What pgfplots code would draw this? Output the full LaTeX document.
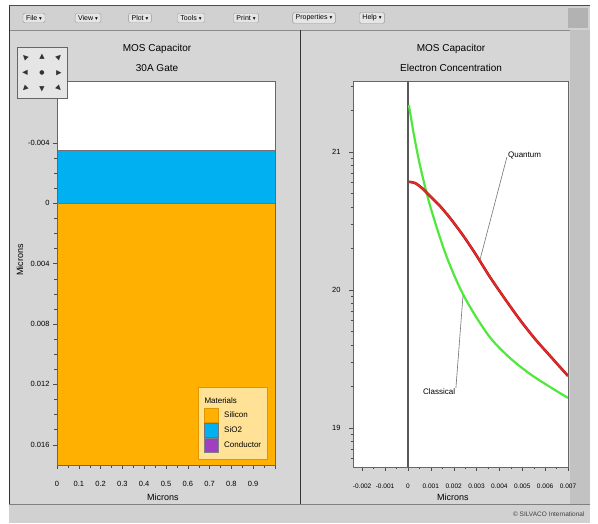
\documentclass[border=0pt]{standalone}
\usepackage{fontspec}
\setmainfont{Liberation Sans}
\newfontfamily\dejavu{DejaVu Sans}
\usepackage{pgfplots}
\pgfplotsset{compat=1.18}
\definecolor{silicon}{RGB}{255,176,0}
\definecolor{oxide}{RGB}{0,176,240}
\definecolor{conductor}{RGB}{160,64,192}
\definecolor{legfill}{RGB}{255,226,150}
\definecolor{legdraw}{RGB}{225,150,0}
\definecolor{winbg}{RGB}{214,214,214}
\definecolor{qred}{RGB}{235,40,40}
\definecolor{qdark}{RGB}{170,20,20}
\definecolor{cgreen}{RGB}{80,232,60}
\pgfplotsset{swatch/.style={legend image code/.code={\draw[##1] (0pt,-7pt) rectangle (14pt,7pt);}}}
\begin{document}
\begin{tikzpicture}
\path[use as bounding box] (0pt,0pt) rectangle (598pt,523pt);
\fill[white] (0pt,0pt) rectangle (598pt,523pt);
\fill[winbg] (9pt,0pt) rectangle (590pt,517pt);
% menu bar
\fill[black!18] (9pt,493pt) rectangle (590pt,517pt);
\draw[black!70] (9pt,517.5pt)--(590pt,517.5pt);
\draw[black!45] (9pt,493pt)--(590pt,493pt);
\fill[black!30] (568pt,495pt) rectangle (588pt,515pt);
\foreach \cx/\t in {34/File,88/View,140/Plot,191/Tools,246/Print,314/Properties,372/Help}{
  \node[draw=black!40, fill=black!10, rounded corners=1.5pt, inner xsep=3pt, inner ysep=2.2pt, font=\fontsize{7}{8}\selectfont] at (\cx pt,505pt) {\t\ {\dejavu\fontsize{5.5}{6}\selectfont ▾}};
}
% panels
\fill[black!24] (570pt,19pt) rectangle (590pt,493pt);
\draw[black!80, line width=1.4pt] (9.7pt,0pt)--(9.7pt,517pt);
\draw[black!80, line width=1.2pt] (300.5pt,19pt)--(300.5pt,493pt);
\fill[black!18] (9pt,0pt) rectangle (590pt,19pt);
\draw[black!50] (9pt,19pt)--(590pt,19pt);
\node[anchor=east, font=\fontsize{6.5}{7}\selectfont, text=black!75] at (588pt,9pt) {© SILVACO International};

% ---------- left axis: structure ----------
\begin{axis}[
  at={(57pt,58pt)}, anchor=south west, scale only axis,
  width=218pt, height=384pt,
  xmin=0, xmax=1, ymin=-0.0081, ymax=0.01735, y dir=reverse,
  axis background/.style={fill=white},
  axis line style={black!60}, tick style={black!70},
  tick align=outside, xtick pos=bottom, ytick pos=left,
  major tick length=4pt, minor tick length=2.5pt,
  xtick={0,0.1,0.2,0.3,0.4,0.5,0.6,0.7,0.8,0.9,1},
  xticklabels={0,0.1,0.2,0.3,0.4,0.5,0.6,0.7,0.8,0.9,},
  minor x tick num=1,
  ytick={-0.004,0,0.004,0.008,0.012,0.016}, minor y tick num=3,
  scaled ticks=false,
  yticklabel style={/pgf/number format/fixed, /pgf/number format/precision=3},
  /pgf/number format/assume math mode=true,
  ticklabel style={font=\fontsize{7.5}{8}\selectfont},
  xticklabel style={yshift=-9pt},
  title={MOS Capacitor\\30A Gate},
  title style={at={(axis description cs:0.459,1)}, anchor=south, yshift=0pt, align=center, font=\fontsize{10}{20}\selectfont},
  xlabel={Microns},
  xlabel style={at={(axis description cs:0.486,0)}, anchor=center, yshift=-32pt, font=\fontsize{9}{10}\selectfont},
  ylabel={Microns},
  ylabel style={at={(axis description cs:-0.17,0.534)}, anchor=center, font=\fontsize{9}{10}\selectfont},
  legend style={at={(axis description cs:0.968,0.013)}, anchor=south east,
    fill=legfill, draw=legdraw, line width=0.8pt, inner xsep=6pt, inner ysep=7pt,
    font=\fontsize{8}{9}\selectfont, row sep=0pt, column sep=5pt,
    nodes={inner sep=0.5pt, line width=0.4pt}},
  legend cell align=left,
  axis on top,
]
\addlegendimage{legend image code/.code={\path[draw=none,fill=none] (0pt,-7pt) rectangle (14pt,7pt); \node[overlay, anchor=west, inner sep=0pt, draw=none, fill=none, text=black, font=\fontsize{8}{9}\selectfont] at (0pt,0pt) {Materials};}}
\addlegendentry{\mbox{}}
\addplot[fill=silicon, draw=legdraw, swatch] coordinates {(0,0) (1,0) (1,0.01735) (0,0.01735)} -- cycle;
\addlegendentry{Silicon}
\addplot[fill=oxide, draw=black!55, swatch] coordinates {(0,-0.0035) (1,-0.0035) (1,0) (0,0)} -- cycle;
\addlegendentry{SiO2}
\addlegendimage{fill=conductor, draw=black!50, swatch}
\addlegendentry{Conductor}
\end{axis}

% ---------- right axis: electron concentration ----------
\begin{axis}[
  at={(353pt,56pt)}, anchor=south west, scale only axis,
  width=215pt, height=386pt,
  xmin=-0.0024, xmax=0.007,
  ymode=log, log basis y=10, ymin=5.21e18, ymax=3.27e21,
  axis background/.style={fill=white},
  axis line style={black!60}, tick style={black!70},
  tick align=outside, xtick pos=bottom, ytick pos=left,
  major tick length=4pt, minor tick length=2.5pt,
  xtick={-0.002,-0.001,0,0.001,0.002,0.003,0.004,0.005,0.006,0.007},
  minor x tick num=1,
  ytick={1e19,1e20,1e21},
  minor ytick={6e18,7e18,8e18,9e18,2e19,3e19,4e19,5e19,6e19,7e19,8e19,9e19,2e20,3e20,4e20,5e20,6e20,7e20,8e20,9e20,2e21,3e21},
  yticklabel={\pgfmathprintnumber{\tick}},
  scaled ticks=false,
  xticklabel style={/pgf/number format/fixed, /pgf/number format/precision=3, yshift=-9pt, font=\fontsize{6.5}{7}\selectfont},
  yticklabel style={xshift=-5pt, font=\fontsize{7.5}{8}\selectfont},
  /pgf/number format/assume math mode=true,
  title={MOS Capacitor\\Electron Concentration},
  title style={at={(axis description cs:0.456,1)}, anchor=south, yshift=0pt, align=center, font=\fontsize{10}{20}\selectfont},
  xlabel={Microns},
  xlabel style={at={(axis description cs:0.465,0)}, anchor=center, yshift=-30pt, font=\fontsize{9}{10}\selectfont},
  clip=true,
]
% oxide / silicon interface
\addplot[black!65, line width=2pt] coordinates {(0,5.21e18) (0,3.27e21)};
% Classical
\addplot[cgreen, line width=2.2pt, smooth] coordinates {
 (0.000044,2.19e21) (0.000263,1.33e21) (0.000525,8.05e20) (0.000875,4.64e20)
 (0.001225,2.96e20) (0.001619,1.88e20) (0.002056,1.24e20) (0.002494,8.75e19)
 (0.003063,6.07e19) (0.003675,4.35e19) (0.004463,3.21e19) (0.005338,2.46e19)
 (0.006213,1.98e19) (0.007000,1.65e19)};
% Quantum
\addplot[qdark, line width=2.6pt, smooth] coordinates {
 (0.000044,6.07e20) (0.000306,5.96e20) (0.000613,5.48e20) (0.000963,4.80e20)
 (0.001400,4.06e20) (0.001838,3.33e20) (0.002363,2.55e20) (0.002931,1.85e20)
 (0.003588,1.24e20) (0.004244,8.61e19) (0.004900,6.07e19) (0.005556,4.42e19)
 (0.006213,3.33e19) (0.007000,2.38e19)};
\addplot[qred, line width=1.5pt, smooth] coordinates {
 (0.000044,6.07e20) (0.000306,5.96e20) (0.000613,5.48e20) (0.000963,4.80e20)
 (0.001400,4.06e20) (0.001838,3.33e20) (0.002363,2.55e20) (0.002931,1.85e20)
 (0.003588,1.24e20) (0.004244,8.61e19) (0.004900,6.07e19) (0.005556,4.42e19)
 (0.006213,3.33e19) (0.007000,2.38e19)};
% leader lines
\addplot[black!55, line width=0.6pt] coordinates {(0.00433,9.2e20) (0.00315,1.65e20)};
\addplot[black!55, line width=0.6pt] coordinates {(0.00210,1.95e19) (0.00241,9.1e19)};
\node[anchor=west, inner sep=1pt, font=\fontsize{8}{9}\selectfont] at (axis cs:0.00433,9.5e20) {Quantum};
\node[anchor=east, inner sep=1pt, font=\fontsize{8}{9}\selectfont] at (axis cs:0.00212,1.82e19) {Classical};
\end{axis}

% navigation widget (drawn on top of the left plot)
\draw[black!60, fill=black!10] (17pt,425pt) rectangle (67pt,476pt);
\foreach \r [count=\i from 0] in {45,0,-45,90,999,-90,135,180,-135}{
  \pgfmathsetmacro{\gx}{25+17*mod(\i,3)}
  \pgfmathsetmacro{\gy}{466-16*floor(\i/3)}
  \ifnum\r=999
    \node[font=\dejavu\fontsize{6}{6}\selectfont, text=black!80] at (\gx pt,\gy pt) {●};
  \else
    \node[rotate=\r, font=\dejavu\fontsize{7}{7}\selectfont, text=black!80] at (\gx pt,\gy pt) {▲};
  \fi
}
\end{tikzpicture}
\end{document}
